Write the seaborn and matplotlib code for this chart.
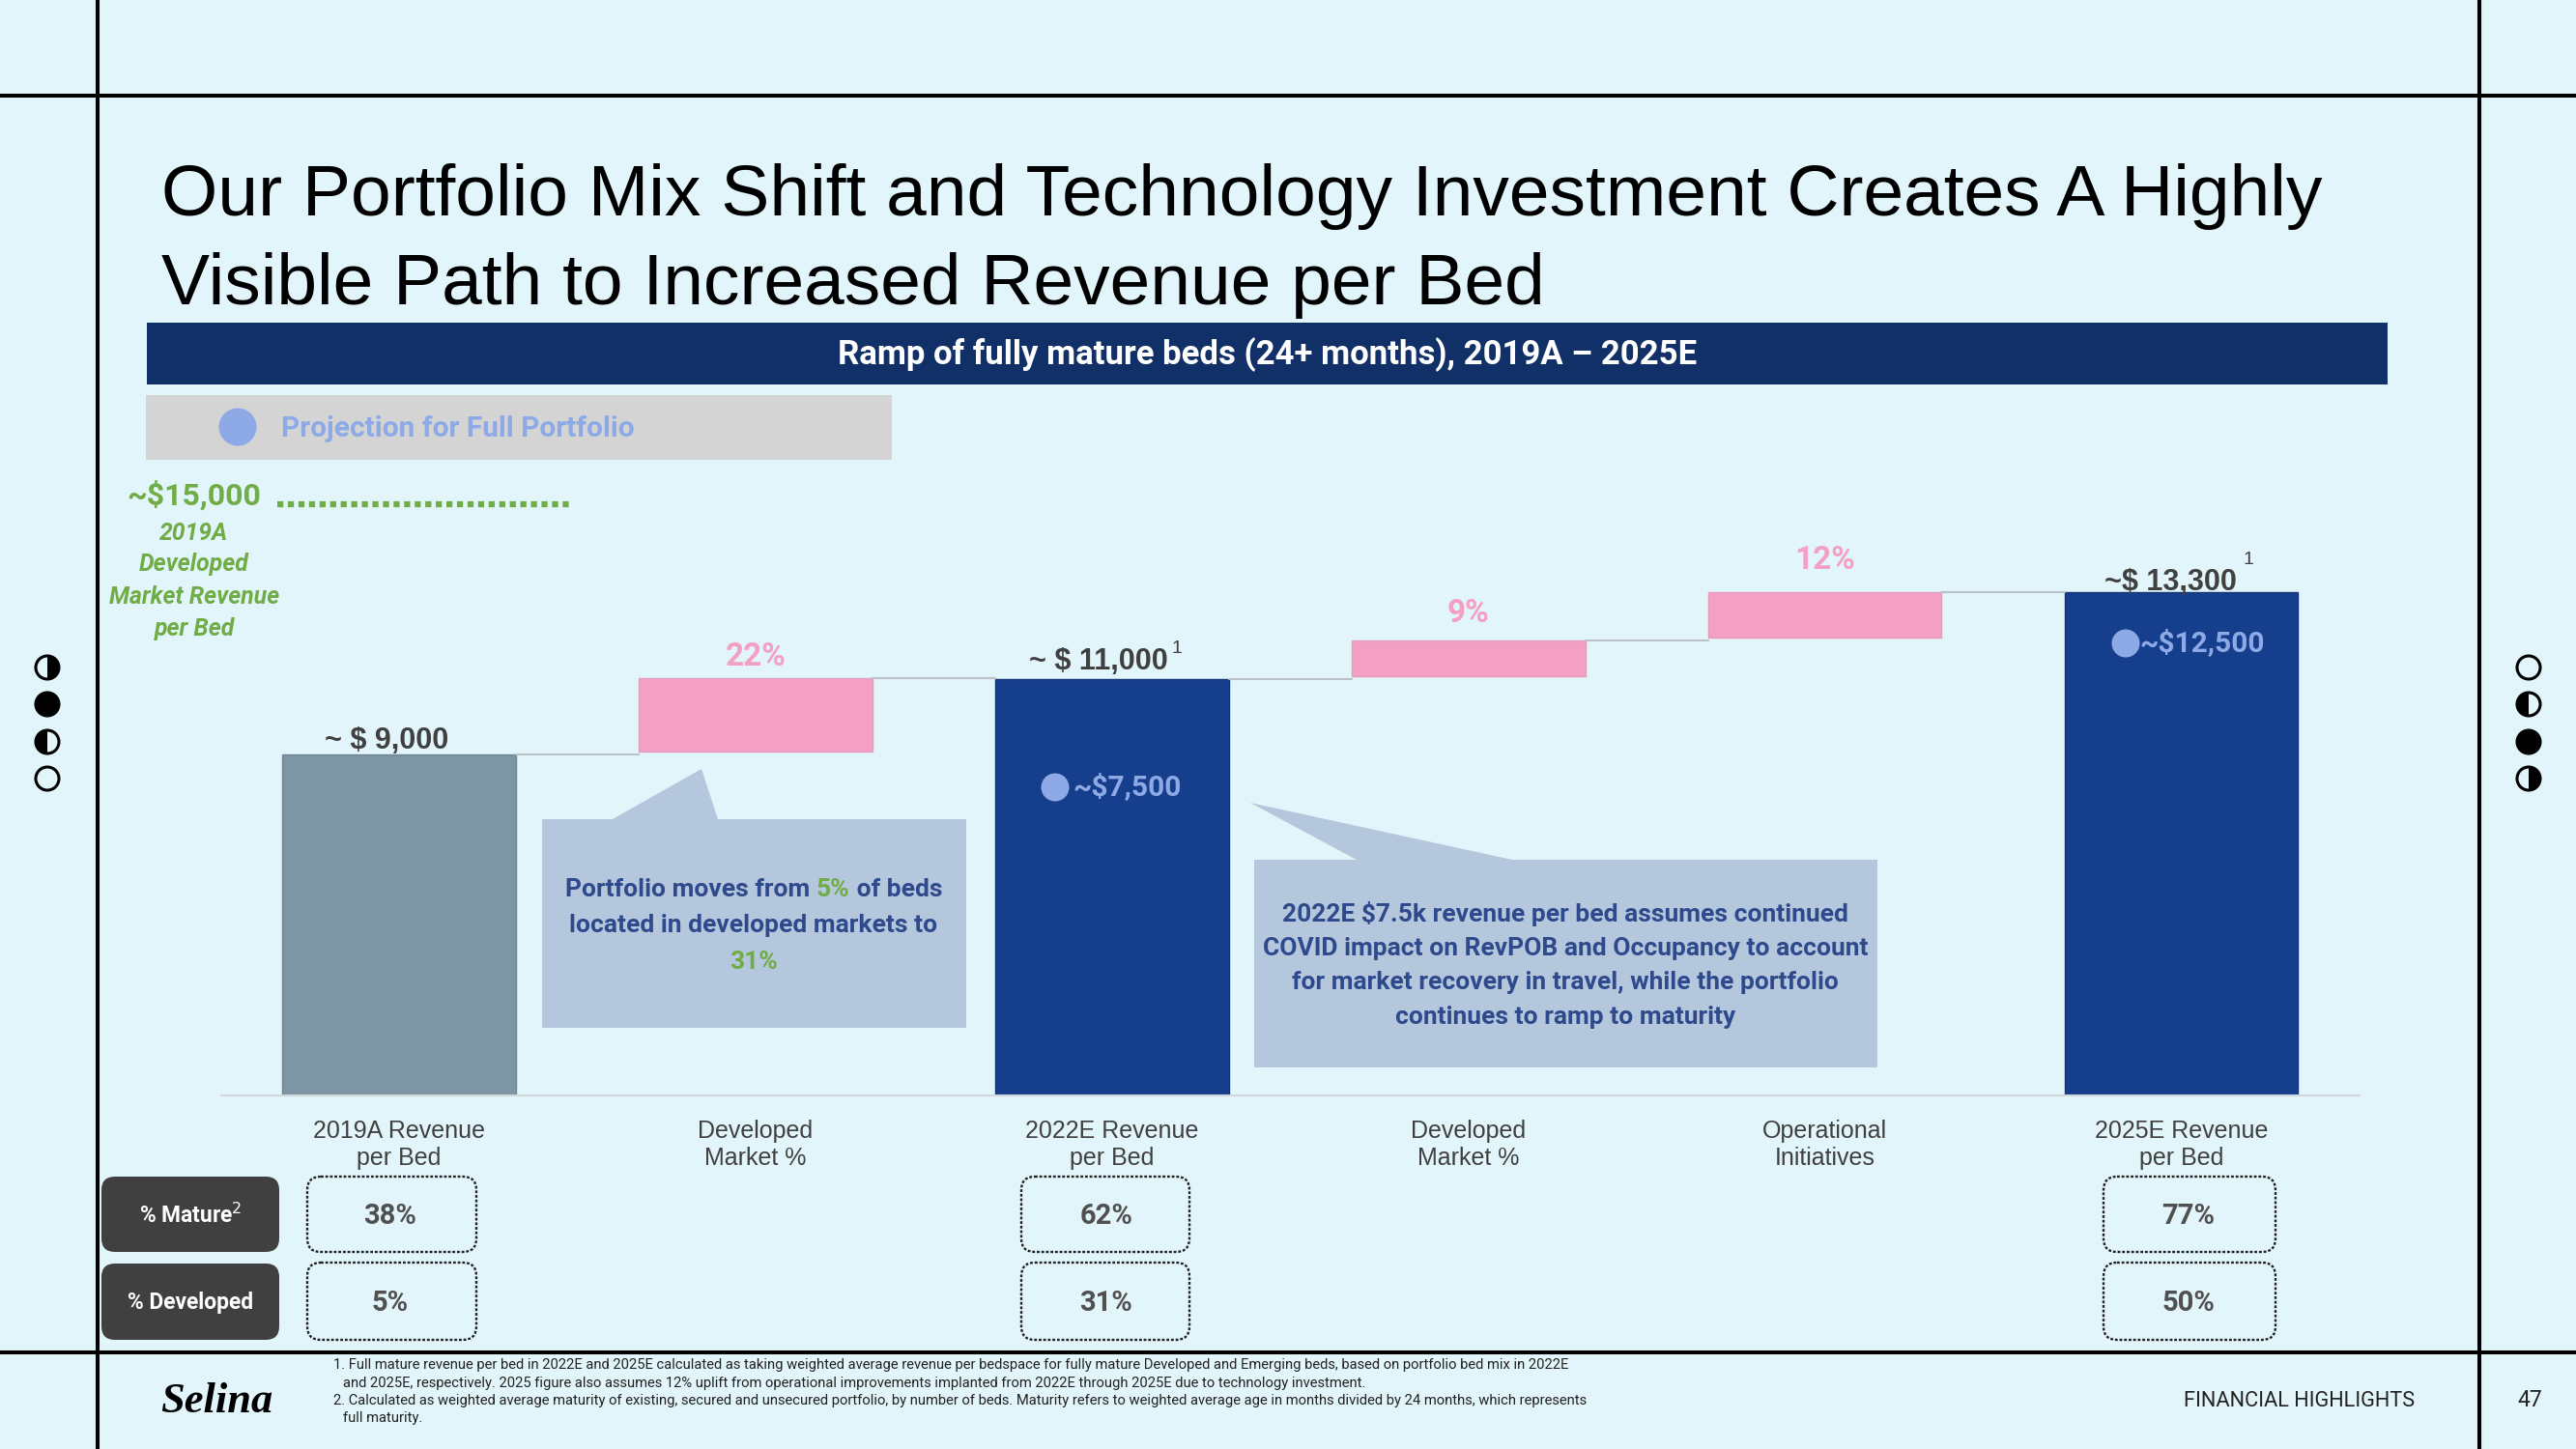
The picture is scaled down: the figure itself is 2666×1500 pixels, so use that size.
import matplotlib
matplotlib.use("Agg")
import matplotlib.pyplot as plt
from matplotlib.patches import Rectangle, FancyBboxPatch, Polygon, Circle, Wedge
import pandas as pd
import seaborn as sns

STEPS = ["2019A", "Dev1", "2022E", "Dev2", "Ops", "2025E"]
TICK_LABELS = ["2019A Revenue\nper Bed", "Developed\nMarket %", "2022E Revenue\nper Bed",
               "Developed\nMarket %", "Operational\nInitiatives", "2025E Revenue\nper Bed"]
BASES = [0, 9080, 0, 11070, 12090, 0]
HEIGHTS = [9000, 1940, 11000, 945, 1200, 13300]
BAR_LABELS = ["~ $ 9,000", "22%", "~ $ 11,000", "9%", "12%", "~$ 13,300"]
ROW_NAMES = ["% Mature$^{2}$", "% Developed"]
MATURE = ["38%", "62%", "77%"]
DEVELOPED = ["5%", "31%", "50%"]

BG = "#e2f5fa"; NAVY = "#123068"; GREEN = "#70ad47"; PINK = "#f4a0c4"; LIGHTBLUE = "#8eaae6"
BLUE = "#153e8c"; SLATE = "#7d95a5"; CALL = "#b4c7dd"; CALLTXT = "#2f4a8c"; DARK = "#404040"
sns.set_theme(style="white")
COND = "Roboto"
plt.rcParams["font.family"] = ["Liberation Sans", "DejaVu Sans"]

fig = plt.figure(figsize=(26.66, 15), dpi=100, facecolor=BG)
W, H = 2666, 1500
bg = fig.add_axes([0, 0, 1, 1], facecolor=BG, zorder=0)
bg.set_xlim(0, W); bg.set_ylim(H, 0); bg.axis("off")

# frame
for y in (99, 1400):
    bg.plot([0, W], [y, y], color="black", lw=2.9, solid_capstyle="butt")
for x in (101, 2566):
    bg.plot([x, x], [0, H], color="black", lw=2.9, solid_capstyle="butt")

# moon icons
def moon(x, y, kind):
    r = 12
    bg.add_patch(Circle((x, y), r, fc="black" if kind == "full" else BG, ec="black", lw=2.2))
    if kind == "right":
        bg.add_patch(Wedge((x, y), r, -90, 90, fc="black", ec="none"))
    if kind == "left":
        bg.add_patch(Wedge((x, y), r, 90, 270, fc="black", ec="none"))
for y, k in zip((691, 729, 768, 806), ("right", "full", "left", "empty")):
    moon(49, y, k)
for y, k in zip((691, 729, 768, 806), ("empty", "left", "full", "right")):
    moon(2617, y, k)

# title
bg.text(167, 204, "Our Portfolio Mix Shift and Technology Investment Creates A Highly", fontsize=54, color="black", va="center")
bg.text(167, 295, "Visible Path to Increased Revenue per Bed", fontsize=54, color="black", va="center")

# header and legend strip
bg.add_patch(Rectangle((152, 334), 2319, 64, fc=NAVY, ec="none"))
bg.text(1312, 367, "Ramp of fully mature beds (24+ months), 2019A \u2013 2025E", fontsize=25, color="white",
        weight="bold", family=COND, ha="center", va="center")
bg.add_patch(Rectangle((151, 409), 772, 67, fc="#d4d4d4", ec="none"))
bg.add_patch(Circle((246, 442), 19.5, fc=LIGHTBLUE, ec="none"))
bg.text(291, 444, "Projection for Full Portfolio", fontsize=21.5, color=LIGHTBLUE, weight="bold", family=COND, va="center")

# developed-market reference
bg.text(201, 513, "~$15,000", fontsize=23, color=GREEN, weight="bold", family=COND, ha="center", va="center")
bg.plot([287, 590], [522, 522], color=GREEN, lw=4.5, linestyle=(0, (1.0, 0.75)))
for y, s in zip((552, 584, 618, 651), ("2019A", "Developed", "Market Revenue", "per Bed")):
    bg.text(201, y, s, fontsize=17.8, color=GREEN, weight="bold", style="italic", family=COND, ha="center", va="center")

# waterfall
ax = fig.add_axes([228.5 / W, (H - 1134) / H, 2213.5 / W, 627.2 / H], facecolor="none", zorder=2)
BAR_W = 0.655
df = pd.DataFrame({"step": STEPS, "base": BASES, "height": HEIGHTS})
kinds = [([0], SLATE, "#6f8592"), ([2, 5], BLUE, "#12357a"), ([1, 3, 4], PINK, "#e59cbb")]
for idx, col, edge in kinds:
    sub = df.iloc[idx]
    sns.barplot(data=sub, x="step", y="height", order=STEPS, color=col, width=BAR_W, ax=ax,
                bottom=sub["base"].values, saturation=1, errorbar=None, linewidth=1, edgecolor=edge)
ax.set_xlim(-0.5, 5.5); ax.set_ylim(0, 16000)
ax.set_xlabel(""); ax.set_ylabel(""); ax.set_yticks([])
ax.set_xticks(range(6)); ax.set_xticklabels(TICK_LABELS, fontsize=18, color=DARK, linespacing=1.22)
ax.tick_params(axis="x", length=0, pad=18)
sns.despine(ax=ax, left=True)
ax.spines["bottom"].set_color("#d0d8da"); ax.spines["bottom"].set_linewidth(1.5)

# connectors between bars
tops = [b + h for b, h in zip(BASES, HEIGHTS)]
starts = [9000, 11020, 11000, 12015, 13290]
for i, lvl in enumerate(starts):
    ax.plot([i + BAR_W / 2, i + 1 - BAR_W / 2], [lvl, lvl], color="#b9c2c6", lw=1.5)

# bar labels
OFFS = {0: (-9, 10.5), 2: (-10, 13), 5: (-8, 7)}
PCT_OFFS = {1: 15.5, 3: 20.5, 4: 24}
for i, s in enumerate(BAR_LABELS):
    if "%" in s:
        ax.annotate(s, (i, tops[i]), xytext=(0, PCT_OFFS[i]), textcoords="offset points", fontsize=24, color=PINK,
                    weight="bold", family=COND, ha="center", va="center")
    else:
        ax.annotate(s, (i, tops[i]), xytext=OFFS[i], textcoords="offset points", fontsize=22, color=DARK,
                    weight="bold", ha="center", va="center")
bg.text(1218, 671, "1", fontsize=14, color=DARK, ha="center", va="center")
bg.text(2327, 579, "1", fontsize=14, color=DARK, ha="center", va="center")

# projections inside bars (top axes)
fg = fig.add_axes([0, 0, 1, 1], facecolor="none", zorder=3)
fg.set_xlim(0, W); fg.set_ylim(H, 0); fg.axis("off")
fg.add_patch(Circle((1092, 815), 14.5, fc=LIGHTBLUE, ec="none"))
fg.text(1110, 815, "~$7,500", fontsize=21.5, color=LIGHTBLUE, weight="bold", family=COND, va="center")
fg.add_patch(Circle((2200, 666), 14.5, fc=LIGHTBLUE, ec="none"))
fg.text(2215, 666, "~$12,500", fontsize=21.5, color=LIGHTBLUE, weight="bold", family=COND, va="center")

# callouts
fg.add_patch(Polygon([(561, 848), (634, 848), (726, 796), (743, 848), (1000, 848), (1000, 1064), (561, 1064)], fc=CALL, ec="none"))
fg.add_patch(Polygon([(1298, 890), (1404, 890), (1294, 831), (1565, 890), (1943, 890), (1943, 1105), (1298, 1105)], fc=CALL, ec="none"))

def runs(axx, xc, y, parts, **kw):
    r = fig.canvas.get_renderer()
    inv = axx.transData.inverted()
    ts = [axx.text(0, y, s, color=c, va="center", **kw) for s, c in parts]
    ws = []
    for t in ts:
        e = inv.transform(t.get_window_extent(r))
        ws.append(e[1, 0] - e[0, 0])
    x = xc - sum(ws) / 2
    for t, w in zip(ts, ws):
        t.set_x(x); x += w

ck = dict(fontsize=19, weight="bold", family=COND)
runs(fg, 780, 921, [("Portfolio moves from\u00a0", CALLTXT), ("5%", GREEN), ("\u00a0of beds", CALLTXT)], **ck)
fg.text(780, 958, "located in developed markets to", color=CALLTXT, ha="center", va="center", **ck)
fg.text(780, 996, "31%", color=GREEN, ha="center", va="center", **ck)
for y, s in zip((946, 982, 1017, 1053), ("2022E $7.5k revenue per bed assumes continued",
                                          "COVID impact on RevPOB and Occupancy to account",
                                          "for market recovery in travel, while the portfolio",
                                          "continues to ramp to maturity")):
    fg.text(1620, y, s.replace("$", r"\$"), color=CALLTXT, ha="center", va="center", **ck)

# KPI table
ROW_Y = [(1218, 1296), (1308, 1387)]
BOX_Y = [(1218, 1296), (1307, 1387)]
COLS = [(318, 493, 404), (1057, 1231, 1145), (2177, 2355, 2265)]
for (y0, y1), name in zip(ROW_Y, ROW_NAMES):
    bg.add_patch(FancyBboxPatch((105 + 14, y0 + 14), 184 - 28, y1 - y0 - 28, boxstyle="round,pad=14,rounding_size=14", fc=DARK, ec="none"))
    bg.text(197, (y0 + y1) / 2 + 1, name, fontsize=16.4, color="white", weight="bold", family=COND, ha="center", va="center")
for (y0, y1), vals in zip(BOX_Y, (MATURE, DEVELOPED)):
    for (x0, x1, xc), v in zip(COLS, vals):
        bg.add_patch(FancyBboxPatch((x0 + 14, y0 + 14), x1 - x0 - 28, y1 - y0 - 28, boxstyle="round,pad=14,rounding_size=14",
                                    fc="none", ec="#222222", lw=1.7, linestyle=(0, (1.2, 0.8))))
        bg.text(xc, (y0 + y1) / 2 + 2, v, fontsize=21, color="#505050", weight="bold", family=COND, ha="center", va="center")

# footer
bg.text(224, 1451, "Selina", fontsize=32, weight="bold", style="italic", family="Liberation Serif", color="black", ha="center", va="center")
notes = [(345, "1. Full mature revenue per bed in 2022E and 2025E calculated as taking weighted average revenue per bedspace for fully mature Developed and Emerging beds, based on portfolio bed mix in 2022E"),
         (355, "and 2025E, respectively. 2025 figure also assumes 12% uplift from operational improvements implanted from 2022E through 2025E due to technology investment."),
         (345, "2. Calculated as weighted average maturity of existing, secured and unsecured portfolio, by number of beds. Maturity refers to weighted average age in months divided by 24 months, which represents"),
         (355, "full maturity.")]
for y, (x, s) in zip((1413, 1432, 1450, 1468), notes):
    bg.text(x, y, s, fontsize=10.6, color="#222222", family=COND, va="center")
bg.text(2260, 1450, "FINANCIAL HIGHLIGHTS", fontsize=15.7, color="#222222", family=COND, va="center")
bg.text(2618, 1450, "47", fontsize=16.5, color="#222222", family=COND, ha="center", va="center")

fig.savefig("out.png", dpi=100, facecolor=BG)
